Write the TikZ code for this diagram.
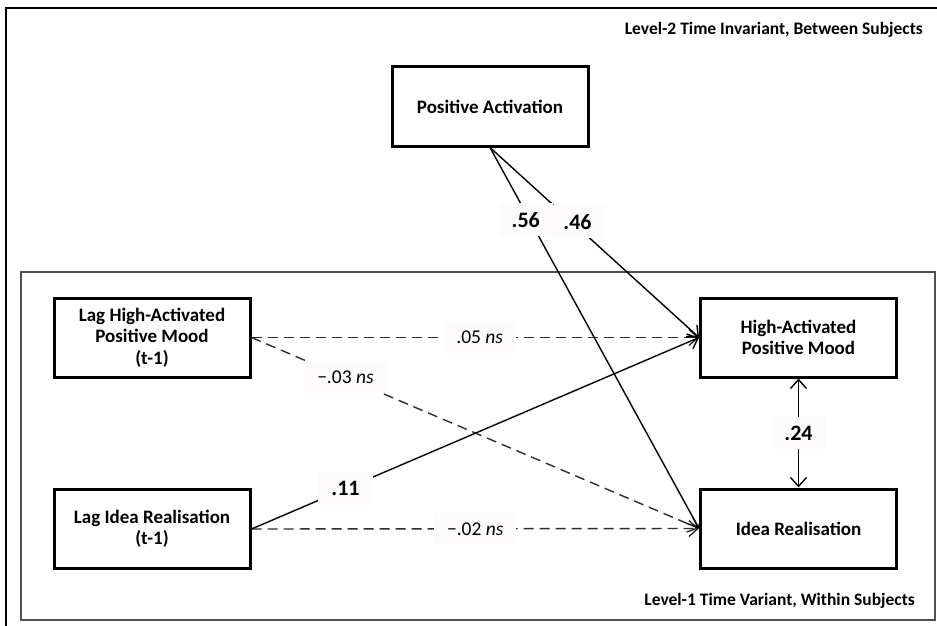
\documentclass[tikz,border=0pt]{standalone}
\usepackage{fontspec}
\setmainfont{Carlito}
\definecolor{pathgray}{RGB}{45, 45, 45}
\definecolor{labelbg}{RGB}{253, 251, 251}
\definecolor{framegray}{RGB}{80, 80, 80}
\usetikzlibrary{arrows.meta, positioning}
\tikzset{
    varbox/.style={draw, rectangle, line width=3pt, minimum width=196pt, minimum height=79pt, inner sep=0pt, align=center, font=\fontsize{19}{21.5}\selectfont\bfseries},
    levellabel/.style={anchor=east, inner sep=0pt, font=\fontsize{17.5}{20}\selectfont\bfseries},
    pathlabel/.style={fill=labelbg, inner xsep=13pt, inner ysep=9pt, font=\fontsize{19.5}{21}\selectfont},
    coef/.style={pathlabel, font=\fontsize{22}{24}\selectfont\bfseries},
    sigpath/.style={-{Straight Barb[length=9pt, width=16pt]}, line width=1.4pt},
    nspath/.style={sigpath, draw=pathgray, dash pattern=on 10pt off 6pt},
    corrpath/.style={{Straight Barb[length=9pt, width=16pt]}-{Straight Barb[length=9pt, width=16pt]}, line width=1.4pt},
}

\begin{document}
\begin{tikzpicture}[x=1pt, y=-1pt]
    \useasboundingbox (0,0) rectangle (937,626);
    \clip (0,0) rectangle (937,626);
    % level frames
    \draw[line width=2.6pt] (6,650) |- (960,8);
    \draw[framegray, line width=1.2pt] (21,272) rectangle (935,620);
    \node[levellabel] (lvltwo) at (923,30) {Level-2 Time Invariant, Between Subjects};
    \node[levellabel] (lvlone) at (915,601) {Level-1 Time Variant, Within Subjects};

    % variables
    \node[varbox] (posact) at (490,106.5) {Positive Activation};
    \node[varbox] (lagmood) at (152,337.5) {Lag High-Activated\\Positive Mood\\(t-1)};
    \node[varbox] (lagidea) at (152,529) {Lag Idea Realisation\\(t-1)};
    \node[varbox] (mood) at (798.5,337.5) {High-Activated\\Positive Mood};
    \node[varbox] (idea) at (798.5,528.5) {Idea Realisation};

    % paths
    \draw[nspath] (lagmood.east) -- node[pathlabel, pos=0.51] {.05 \textit{ns}} (mood.west);
    \draw[nspath] (lagmood.east) -- node[pathlabel, pos=0.21] {−.03 \textit{ns}} (idea.west);
    \draw[nspath] (lagidea.east) -- node[pathlabel, pos=0.5] {−.02 \textit{ns}} (idea.west);
    \draw[sigpath] (lagidea.east) -- node[coef, pos=0.21] {.11} (mood.west);
    \draw[sigpath] (posact.south) -- node[coef, pos=0.39, xshift=6pt] {.46} (mood.west);
    \draw[sigpath] (posact.south) -- node[coef, pos=0.19, xshift=-4pt] {.56} (idea.west);
    \draw[corrpath] (mood.south) -- node[coef] {.24} (idea.north);
\end{tikzpicture}
\end{document}
